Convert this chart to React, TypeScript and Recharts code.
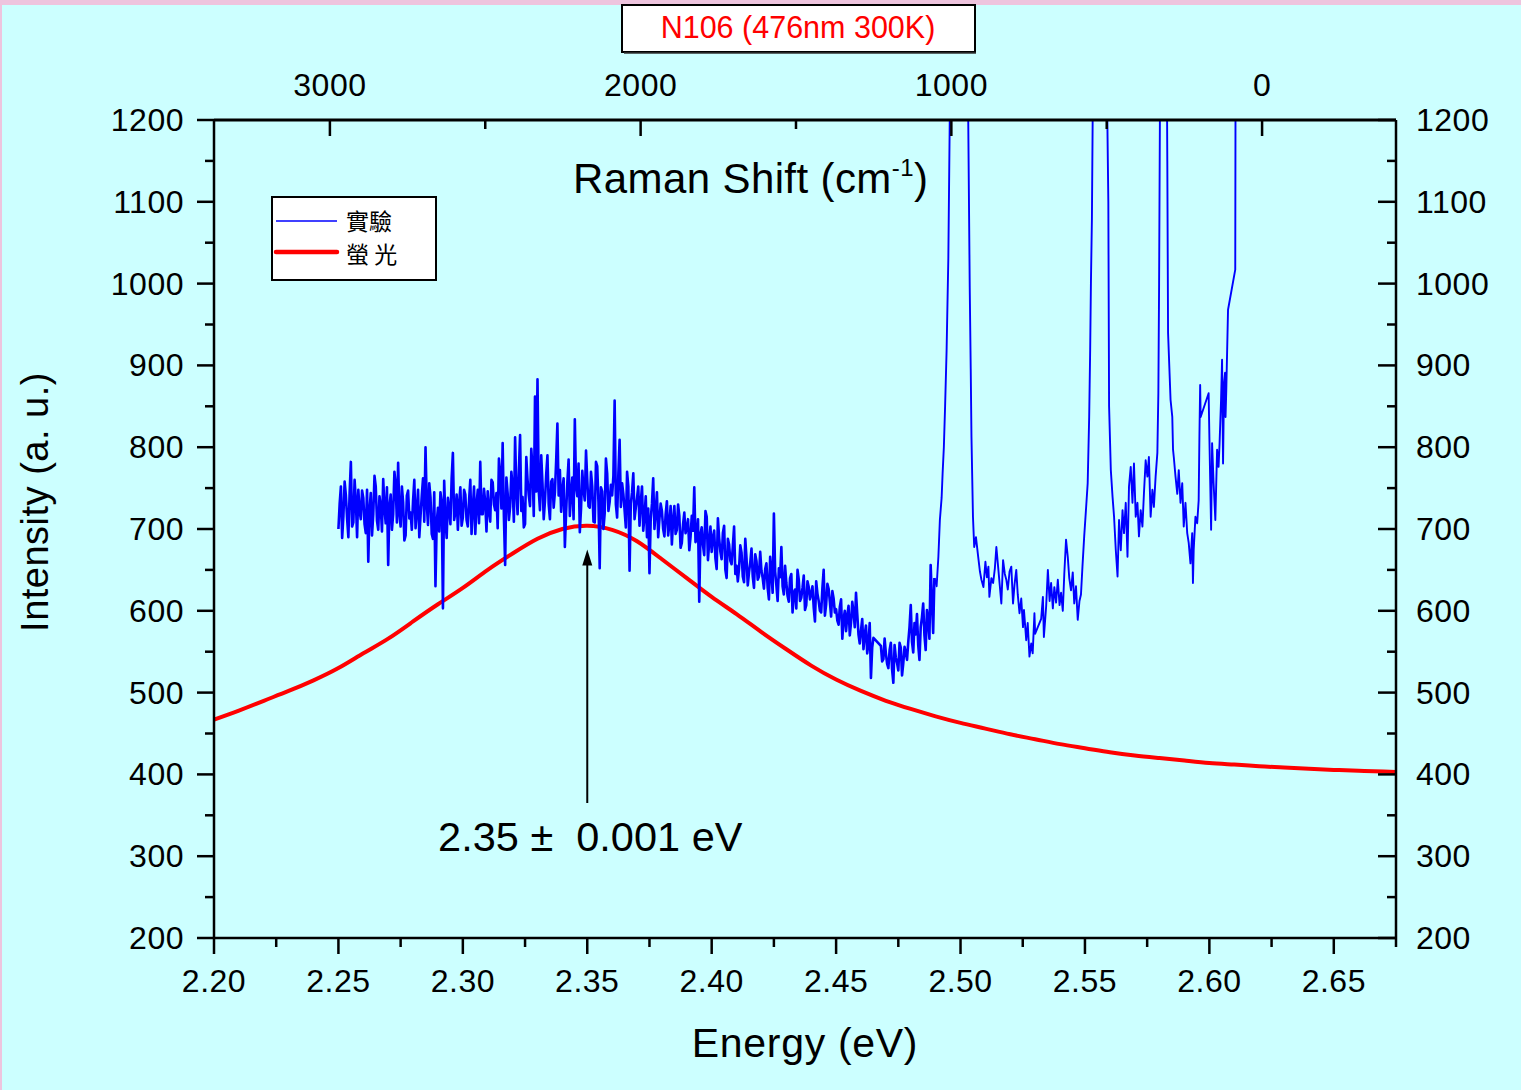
import React from "react"
import { ComposedChart, Line, XAxis, YAxis, ReferenceLine, ReferenceDot } from "recharts"

// experimental spectrum, noisy part: readings at 2.250, 2.251, ... eV
const noiseStart = 2.25
const noiseStep = 0.001
const noiseIntensity: (number | null)[] = [
  700, 752, 716, 741, 690, 782, 708, 735, 748, 712,
  738, 695, 660, 744, 718, 752, 699, 728, 761, 707,
  656, 742, 718, 755, 781, 703, 733, 692, 747, 720,
  735, 701, 748, 716, 762, 800, 705, 739, 688, 630,
  726, 745, 603, 712, 738, 706, 793, 720, 699, 751,
  714, 742, 703, 760, 725, 694, 748, 782, 718, 733,
  746, 709, 757, 723, 701, 768, 805, 656, 744, 727,
  752, 812, 718, 815, 739, 706, 760, 728, 775, 862,
  883, 723, 756, 734, 790, 712, 761, 745, 829, 772,
  748, 678, 757, 716, 763, 834, 740, 696, 771, 735,
  760, 726, 752, 708, 777, 652, 746, 719, 768, 733,
  741, 857, 714, 809, 756, 723, 770, 649, 745, 712,
  738, 704, 752, 716, 690, 646, 731, 700, 745, 712,
  722, 691, 734, 706, 681, 728, 699, 716, 683, 720,
  701, 674, 716, 751, 690, 611, 702, 668, 715, 684,
  672, 698, 651, 689, 663, 704, 640, 681, 657, 703,
  655, 652, 671, 635, 664, 647, 676, 628, 661, 642,
  649, 627, 658, 614, 646, 719, 631, 652, 678, 620,
  634, 611, 645, 622, 603, 638, 616, 643, 607, 629,
  621, 604, 636, 612, 598, 650, 608, 627, 593, 615,
  602, 583, 614, 590, 575, 606, 586, 598, 622, 571,
  576, 553, 582, 560, 518, 567, null, null, 557, 541,
  548, 530, 561, 512, 543, 527, 555, 536, 549, 562,
  607, 549, 571, 558, 580, 609, 552, 588, 656, 573,
]
// readings half way between the ones above (2.2505, 2.2515, ...)
const noiseHalf: (number | null)[] = [
  731, 689, 758, 712, 744, 703, 760, 690, 722, 747,
  706, 748, 723, 692, 765, 710, 740, 697, 726, 751,
  728, 699, 770, 708, 719, 752, 686, 741, 713, 699,
  760, 722, 690, 741, 709, 731, 756, 694, 745, 708,
  697, 733, 759, 689, 724, 762, 711, 742, 731, 704,
  748, 711, 735, 694, 752, 730, 707, 718, 749, 697,
  722, 760, 730, 744, 786, 725, 715, 763, 711, 770,
  709, 748, 770, 722, 702, 788, 741, 798, 716, 746,
  747, 790, 712, 767, 730, 758, 726, 783, 741, 721,
  762, 720, 785, 745, 712, 752, 780, 725, 748, 796,
  728, 770, 709, 782, 733, 751, 700, 786, 722, 754,
  765, 730, 768, 727, 743, 702, 752, 731, 768, 726,
  752, 733, 698, 740, 725, 712, 762, 722, 690, 731,
  700, 718, 692, 728, 711, 694, 730, 677, 706, 695,
  712, 690, 698, 684, 712, 694, 680, 722, 662, 703,
  690, 664, 713, 672, 695, 650, 688, 661, 679, 645,
  636, 680, 642, 688, 631, 659, 642, 669, 638, 672,
  640, 651, 628, 666, 622, 648, 612, 641, 630, 655,
  618, 640, 598, 626, 650, 612, 628, 601, 636, 614,
  630, 587, 621, 600, 628, 594, 633, 611, 624, 598,
  588, 605, 566, 600, 594, 570, 611, 580, 596, 560,
  590, 571, 548, 585, 555, null, null, null, 538, 566,
  535, 552, 528, 558, 536, 561, 521, 556, 540, 580,
  562, 585, 596, 540, 592, 570, 601, 566, 612, 640,
]

// Raman peak region, [energy eV, intensity]
const peakRegion: [number, number][] = [
  [2.4895, 640], [2.4904, 630], [2.4911, 666], [2.4917, 711], [2.4924, 738], [2.4928, 768], [2.4933, 800],
  [2.4938, 850], [2.4944, 918], [2.4951, 1031], [2.4957, 1210], [2.497, 1650], [2.499, 2400],
  [2.501, 1800], [2.5025, 1320], [2.5031, 1200], [2.5037, 995], [2.5041, 896], [2.5044, 812],
  [2.505, 715], [2.5055, 678], [2.5062, 690], [2.5071, 666], [2.5078, 648], [2.5084, 638],
  [2.5092, 629], [2.51, 660], [2.5106, 641], [2.5112, 654], [2.5116, 617], [2.5124, 640],
  [2.5131, 634], [2.5138, 652], [2.5144, 678], [2.5151, 654], [2.5158, 630], [2.5164, 609],
  [2.5171, 662], [2.5178, 645], [2.5184, 638], [2.519, 626], [2.5197, 648], [2.5204, 654],
  [2.5211, 609], [2.5217, 632], [2.5224, 650], [2.523, 620], [2.5237, 597], [2.5244, 615],
  [2.5251, 580], [2.5255, 601], [2.5264, 564], [2.527, 585], [2.5277, 544], [2.5284, 560],
  [2.529, 548], [2.5297, 597], [2.53, 572], [2.5324, 590], [2.5331, 617], [2.5335, 568],
  [2.5344, 605], [2.5351, 650], [2.5358, 612], [2.5364, 634], [2.5371, 603], [2.5377, 629],
  [2.5384, 610], [2.5391, 638], [2.5398, 607], [2.5404, 622], [2.5411, 600], [2.5417, 645],
  [2.5424, 687], [2.5431, 666], [2.5437, 640], [2.5444, 625], [2.5451, 647], [2.5457, 609],
  [2.5464, 630], [2.5471, 589], [2.5478, 612], [2.5484, 620], [2.549, 654], [2.5497, 691],
  [2.5504, 723], [2.5511, 756], [2.5517, 837], [2.5521, 919], [2.5524, 1000], [2.5528, 1080],
  [2.5531, 1200], [2.5545, 1900], [2.556, 2600], [2.5575, 1900], [2.5588, 1250], [2.5594, 1100],
  [2.5597, 850], [2.5604, 772], [2.5611, 739], [2.5617, 715], [2.5624, 674], [2.5631, 642],
  [2.5637, 711], [2.5644, 674], [2.5651, 723], [2.5657, 695], [2.5664, 732], [2.5671, 666],
  [2.5677, 752], [2.5684, 776], [2.5691, 732], [2.5697, 780], [2.5704, 715], [2.5711, 732],
  [2.5717, 691], [2.5724, 723], [2.5731, 703], [2.5737, 743], [2.5744, 784], [2.5751, 764],
  [2.5757, 788], [2.5764, 715], [2.5771, 748], [2.5777, 727], [2.5784, 764], [2.5791, 793],
  [2.5795, 866], [2.5798, 1000], [2.5802, 1250], [2.5815, 2000], [2.5825, 1500], [2.5831, 1150],
  [2.5834, 940], [2.5844, 858], [2.5851, 837], [2.5854, 797], [2.5857, 788], [2.5864, 764],
  [2.5871, 743], [2.5877, 772], [2.5884, 732], [2.5891, 756], [2.5897, 703], [2.5904, 732],
  [2.5911, 695], [2.5917, 683], [2.5924, 658], [2.5931, 695], [2.5934, 634], [2.5937, 674],
  [2.5944, 715], [2.5951, 707], [2.5957, 735], [2.596, 813], [2.5963, 876], [2.5965, 837],
  [2.5997, 866], [2.6001, 797], [2.6007, 699], [2.6011, 805], [2.6017, 756], [2.6024, 711],
  [2.6031, 797], [2.6037, 776], [2.6041, 805], [2.6047, 858], [2.6051, 907], [2.6055, 780],
  [2.6059, 878], [2.6063, 891], [2.6065, 837], [2.6068, 870], [2.6075, 968], [2.6104, 1017],
  [2.6106, 1400],
]

// fluorescence fit
const fluorEnergy = [
  2.2, 2.21, 2.22, 2.23, 2.24, 2.25, 2.26, 2.27, 2.28, 2.29, 2.3, 2.31, 2.32, 2.33, 2.34, 2.35,
  2.36, 2.37, 2.38, 2.39, 2.4, 2.41, 2.42, 2.43, 2.44, 2.45, 2.46, 2.47, 2.48, 2.49, 2.5, 2.51,
  2.52, 2.53, 2.54, 2.55, 2.56, 2.57, 2.58, 2.59, 2.6, 2.61, 2.62, 2.63, 2.64, 2.65, 2.66, 2.67, 2.675,
]
const fluorIntensity = [
  467, 478, 490, 502, 515, 530, 548, 566, 587, 608, 628, 650, 670, 688, 700, 704,
  699, 685, 663, 640, 617, 596, 574, 553, 533, 516, 502, 490, 480, 471, 463, 456,
  449, 443, 437, 432, 427, 423, 420, 417, 414, 412, 410, 408.5, 407, 405.5, 404.5, 403.5, 403,
]

const energyTicks = [
  2.2, 2.225, 2.25, 2.275, 2.3, 2.325, 2.35, 2.375, 2.4, 2.425, 2.45, 2.475, 2.5, 2.525,
  2.55, 2.575, 2.6, 2.625, 2.65, 2.675,
]
const intensityTicks = [200, 250, 300, 350, 400, 450, 500, 550, 600, 650, 700, 750, 800, 850, 900, 950, 1000, 1050, 1100, 1150, 1200]
const ramanTicks = [3000, 2500, 2000, 1500, 1000, 500, 0]

const peakEnergy = 2.35
const peakLabel = "2.35 ±  0.001 eV"

const noiseData = noiseIntensity.flatMap((v, k) => [
  { e: +(noiseStart + k * noiseStep).toFixed(4), i: v },
  { e: +(noiseStart + (k + 0.5) * noiseStep).toFixed(5), i: noiseHalf[k] },
])
const peakData = peakRegion.map(([e, i]) => ({ e, i }))
const fluorData = fluorEnergy.map((e, k) => ({ e, i: fluorIntensity[k] }))
// only there so the Raman-shift axis has something bound to it
const ramanAnchor = ramanTicks.map((s) => ({ s, i: null }))

const FONT = '"Liberation Sans", Arial, Helvetica, sans-serif'
const CJK = '"Noto Sans CJK TC", "Noto Sans CJK SC", sans-serif'
const TICK_FS = 32

const isMajorE = (v: number) => Math.round(v * 1000) % 50 === 0

function BottomTick({ x, y, payload }: any) {
  const major = isMajorE(payload.value)
  return (
    <g>
      <line x1={x} y1={y} x2={x} y2={y + (major ? 16 : 9)} stroke="#000" strokeWidth={2.5} />
      {major && (
        <text x={x} y={y + 54} textAnchor="middle" fontSize={TICK_FS} fontFamily={FONT} letterSpacing={0.5} fill="#000">
          {payload.value.toFixed(2)}
        </text>
      )}
    </g>
  )
}

function TopTick({ x, y, payload }: any) {
  const major = payload.value % 1000 === 0
  return (
    <g>
      <line x1={x} y1={y} x2={x} y2={y + (major ? 16 : 9)} stroke="#000" strokeWidth={2.5} />
      {major && (
        <text x={x} y={y - 24} textAnchor="middle" fontSize={TICK_FS} fontFamily={FONT} letterSpacing={0.5} fill="#000">
          {payload.value}
        </text>
      )}
    </g>
  )
}

function LeftTick({ x, y, payload }: any) {
  const major = payload.value % 100 === 0
  return (
    <g>
      <line x1={x - (major ? 17 : 9)} y1={y} x2={x} y2={y} stroke="#000" strokeWidth={2.5} />
      {major && (
        <text x={x - 30} y={y + 11} textAnchor="end" fontSize={TICK_FS} fontFamily={FONT} letterSpacing={0.5} fill="#000">
          {payload.value}
        </text>
      )}
    </g>
  )
}

function RightTick({ x, y, payload }: any) {
  const major = payload.value % 100 === 0
  return (
    <g>
      <line x1={x - (major ? 18 : 9)} y1={y} x2={x} y2={y} stroke="#000" strokeWidth={2.5} />
      {major && (
        <text x={x + 20} y={y + 11} textAnchor="start" fontSize={TICK_FS} fontFamily={FONT} letterSpacing={0.5} fill="#000">
          {payload.value}
        </text>
      )}
    </g>
  )
}

const ArrowHead = ({ cx, cy }: any) => (
  <path d={`M${cx},${cy} L${cx - 5},${cy + 16} L${cx + 5},${cy + 16} Z`} fill="#000" />
)

const PeakText = ({ cx, cy }: any) => (
  <text x={cx + 3} y={cy} textAnchor="middle" fontSize={41.5} fontFamily={FONT} fill="#000" style={{ whiteSpace: "pre" }}>
    {peakLabel}
  </text>
)

export default function App() {
  return (
    <div style={{ position: "absolute", left: 0, top: 0, width: 1521, height: 1090, background: "#CCFFFF", overflow: "hidden" }}>
      <div style={{ position: "absolute", left: 0, top: 0, width: 1521, height: 5, background: "#EEC4DE" }} />
      <div style={{ position: "absolute", left: 0, top: 0, width: 2, height: 1090, background: "#EEC4DE" }} />
      <ComposedChart width={1521} height={1090} margin={{ top: 0, right: 0, bottom: 0, left: 0 }}>
        <XAxis
          xAxisId="e"
          dataKey="e"
          type="number"
          domain={[2.2, 2.675]}
          allowDataOverflow
          ticks={energyTicks}
          interval={0}
          height={152}
          tickSize={0}
          tickMargin={0}
          tickLine={false}
          axisLine={{ stroke: "#000", strokeWidth: 2.5 }}
          tick={<BottomTick />}
        />
        <XAxis
          xAxisId="top"
          dataKey="s"
          orientation="top"
          type="number"
          domain={[-431, 3373]}
          reversed
          allowDataOverflow
          ticks={ramanTicks}
          interval={0}
          height={120}
          tickSize={0}
          tickMargin={0}
          tickLine={false}
          axisLine={{ stroke: "#000", strokeWidth: 3 }}
          tick={<TopTick />}
        />
        <YAxis
          yAxisId="i"
          type="number"
          domain={[200, 1200]}
          allowDataOverflow
          ticks={intensityTicks}
          interval={0}
          width={214}
          tickSize={0}
          tickMargin={0}
          tickLine={false}
          axisLine={{ stroke: "#000", strokeWidth: 2.5 }}
          tick={<LeftTick />}
        />
        <YAxis
          yAxisId="r"
          orientation="right"
          type="number"
          domain={[200, 1200]}
          allowDataOverflow
          ticks={intensityTicks}
          interval={0}
          width={125}
          tickSize={0}
          tickMargin={0}
          tickLine={false}
          axisLine={{ stroke: "#000", strokeWidth: 2.5 }}
          tick={<RightTick />}
        />
        <Line
          xAxisId="top"
          yAxisId="r"
          data={ramanAnchor}
          dataKey="i"
          stroke="none"
          dot={false}
          legendType="none"
          isAnimationActive={false}
        />
        <Line
          xAxisId="e"
          yAxisId="i"
          data={fluorData}
          dataKey="i"
          type="natural"
          stroke="#FF0000"
          strokeWidth={4}
          dot={false}
          isAnimationActive={false}
        />
        <Line
          xAxisId="e"
          yAxisId="i"
          data={noiseData}
          dataKey="i"
          type="linear"
          stroke="#0000FF"
          strokeWidth={2.6}
          strokeLinejoin="round"
          dot={false}
          connectNulls
          isAnimationActive={false}
        />
        <Line
          xAxisId="e"
          yAxisId="i"
          data={peakData}
          dataKey="i"
          type="linear"
          stroke="#0000FF"
          strokeWidth={1.9}
          strokeLinejoin="round"
          dot={false}
          isAnimationActive={false}
        />
        <ReferenceLine
          xAxisId="e"
          yAxisId="i"
          segment={[{ x: peakEnergy, y: 365 }, { x: peakEnergy, y: 665 }]}
          stroke="#000"
          strokeWidth={2}
        />
        <ReferenceDot xAxisId="e" yAxisId="i" x={peakEnergy} y={675} shape={<ArrowHead />} />
        <ReferenceDot xAxisId="e" yAxisId="i" x={peakEnergy} y={306} shape={<PeakText />} />

        <text x={573} y={193} fontSize={42} letterSpacing={0.4} fontFamily={FONT} fill="#000">
          Raman Shift (cm<tspan dy={-17} fontSize={24}>-1</tspan><tspan dy={17}>)</tspan>
        </text>
        <text x={805} y={1057} textAnchor="middle" fontSize={41} letterSpacing={0.7} fontFamily={FONT} fill="#000">
          Energy (eV)
        </text>
        <text
          transform="translate(48, 502) rotate(-90)"
          textAnchor="middle"
          fontSize={38}
          letterSpacing={0.5}
          fontFamily={FONT}
          fill="#000"
        >
          Intensity (a. u.)
        </text>

        <rect x={622} y={5} width={353} height={47} fill="#FFFFFF" stroke="#000" strokeWidth={2} />
        <line x1={624} y1={53} x2={976} y2={53} stroke="#333" strokeWidth={1.5} />
        <text x={798} y={38} textAnchor="middle" fontSize={30.5} fontFamily={FONT} fill="#FF0000">
          N106 (476nm 300K)
        </text>

        <rect x={272} y={197} width={164} height={83} fill="#FFFFFF" stroke="#000" strokeWidth={2} />
        <line x1={276} y1={221} x2={337} y2={221} stroke="#0000FF" strokeWidth={1.5} />
        <line x1={276} y1={252} x2={337} y2={252} stroke="#FF0000" strokeWidth={4.5} strokeLinecap="round" />
        <text x={346} y={230} fontSize={23} fontFamily={CJK} fill="#000">實驗</text>
        <text x={346} y={263} fontSize={23} fontFamily={CJK} fill="#000" style={{ whiteSpace: "pre" }}>螢 光</text>
      </ComposedChart>
    </div>
  )
}
